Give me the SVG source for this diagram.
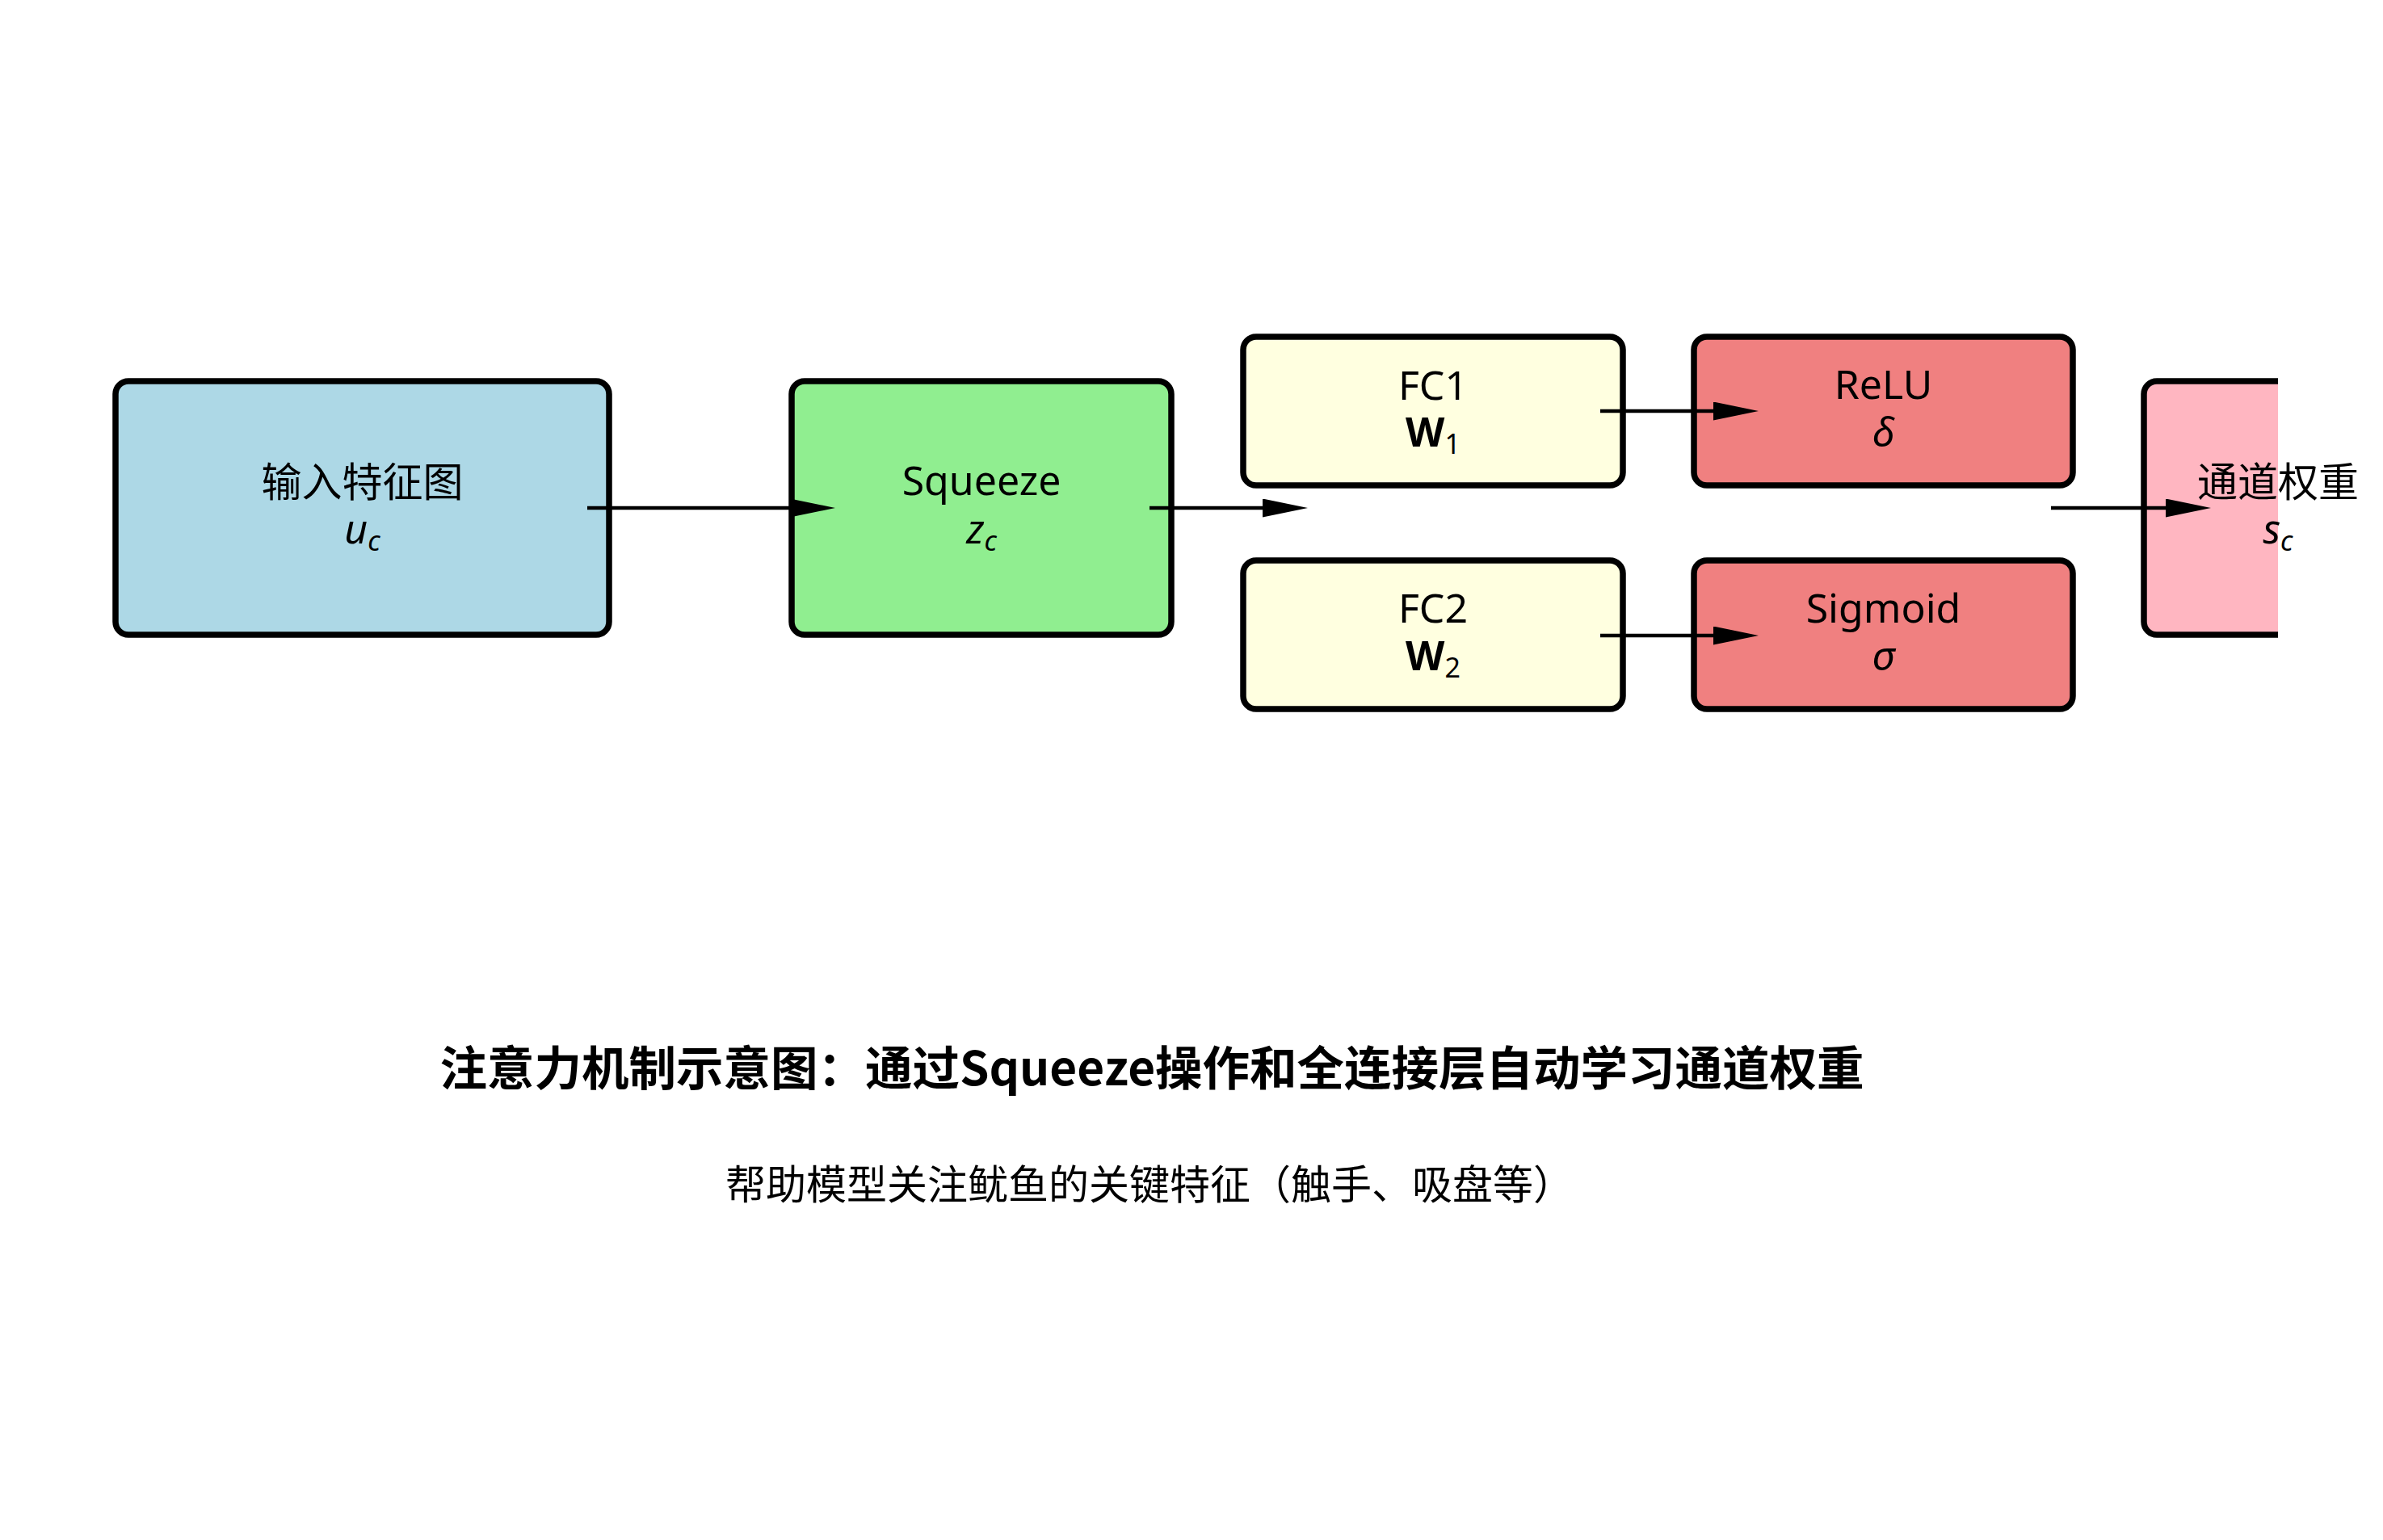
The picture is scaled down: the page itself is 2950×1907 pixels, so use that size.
<svg xmlns="http://www.w3.org/2000/svg" width="2950" height="1907" viewBox="0 0 2950 1907">
<style>
.box{stroke:#000;stroke-width:7.5}
.t{font-family:"Noto Sans","Noto Sans CJK SC",sans-serif;font-size:50px;fill:#000;text-anchor:middle}
.it{font-style:italic}
.sub{font-size:34px}
.bd{font-weight:bold}
.conn{stroke:#000;stroke-width:4.5;fill:none}
.title{font-family:"Noto Sans CJK SC",sans-serif;font-size:58.5px;font-weight:bold;fill:#000;text-anchor:middle}
.subtitle{font-family:"Noto Sans CJK SC",sans-serif;font-size:50px;fill:#000;text-anchor:middle}
</style>
<defs>
<clipPath id="clip"><rect x="0" y="0" width="2820" height="1907"/></clipPath>
<marker id="ah" markerUnits="userSpaceOnUse" markerWidth="58" markerHeight="24" refX="26" refY="11.5" orient="auto">
<path d="M0,0 L56,11.5 L0,23 z" fill="#000"/>
</marker>
</defs>
<rect width="2950" height="1907" fill="#fff"/>
<g id="input">
<rect class="box" x="143" y="472" width="611" height="314" rx="16" fill="#ADD8E6"/>
<text class="t" x="448.5" y="615">输入特征图</text>
<text class="t" x="448.5" y="673"><tspan class="it">u</tspan><tspan class="it sub" dy="9">c</tspan></text>
</g>
<g id="squeeze">
<rect class="box" x="980" y="472" width="470" height="314" rx="16" fill="#90EE90"/>
<text class="t" x="1215" y="613">Squeeze</text>
<text class="t" x="1215" y="673"><tspan class="it">z</tspan><tspan class="it sub" dy="9">c</tspan></text>
</g>
<g id="fc1">
<rect class="box" x="1539" y="417" width="470" height="184" rx="16" fill="#FFFFE0"/>
<text class="t" x="1774" y="495">FC1</text>
<text class="t" x="1774" y="553"><tspan class="bd">W</tspan><tspan class="sub" dy="9">1</tspan></text>
</g>
<g id="fc2">
<rect class="box" x="1539" y="694" width="470" height="184" rx="16" fill="#FFFFE0"/>
<text class="t" x="1774" y="771">FC2</text>
<text class="t" x="1774" y="830"><tspan class="bd">W</tspan><tspan class="sub" dy="9">2</tspan></text>
</g>
<g id="relu">
<rect class="box" x="2097" y="417" width="469" height="184" rx="16" fill="#F08080"/>
<text class="t" x="2331.5" y="494">ReLU</text>
<text class="t it" x="2331.5" y="553">δ</text>
</g>
<g id="sigmoid">
<rect class="box" x="2097" y="694" width="469" height="184" rx="16" fill="#F08080"/>
<text class="t" x="2331.5" y="771">Sigmoid</text>
<text class="t it" x="2331.5" y="830">σ</text>
</g>
<g id="weights">
<g clip-path="url(#clip)">
<rect class="box" x="2654" y="472" width="470" height="314" rx="16" fill="#FFB6C1"/>
</g>
<text class="t" x="2820" y="615">通道权重</text>
<text class="t" x="2820" y="673"><tspan class="it">s</tspan><tspan class="it sub" dy="9">c</tspan></text>
</g>
<g id="connectors">
<line class="conn" x1="727" y1="629" x2="1004" y2="629" marker-end="url(#ah)"/>
<line class="conn" x1="1423" y1="629" x2="1589" y2="629" marker-end="url(#ah)"/>
<line class="conn" x1="1981" y1="509" x2="2147" y2="509" marker-end="url(#ah)"/>
<line class="conn" x1="1981" y1="787" x2="2147" y2="787" marker-end="url(#ah)"/>
<line class="conn" x1="2539" y1="629" x2="2707" y2="629" marker-end="url(#ah)"/>
</g>
<g id="captions">
<text class="title" x="1426" y="1344">注意力机制示意图：通过Squeeze操作和全连接层自动学习通道权重</text>
<text class="subtitle" x="1423" y="1485">帮助模型关注鱿鱼的关键特征（触手、吸盘等）</text>
</g>
</svg>
